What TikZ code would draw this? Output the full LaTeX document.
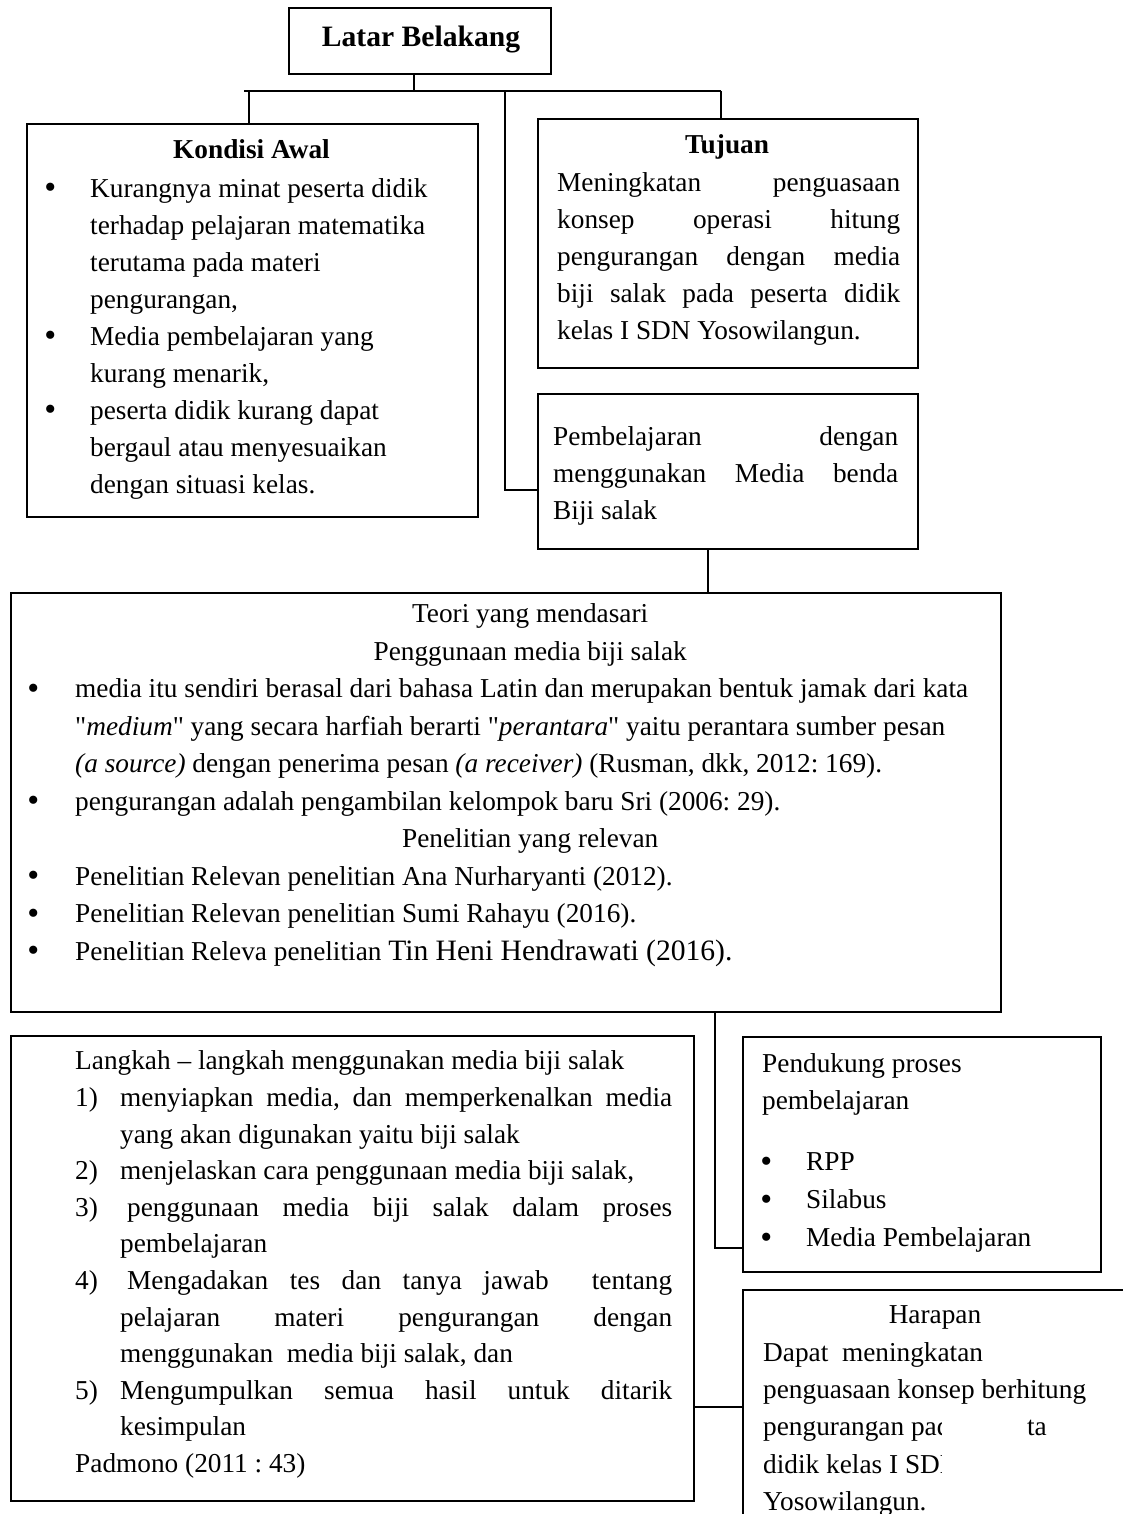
\documentclass[tikz,border=0pt]{standalone}
\usepackage{fontspec}
\setmainfont{Liberation Serif}[Ligatures=TeXOff]
\newcommand\fs{\fontsize{27.3}{37}\selectfont}
\newcommand\jl[2]{\makebox[#1][s]{#2}}
\newcommand\bul[1]{\leavevmode\llap{\raisebox{-1.5pt}{\fontsize{34}{37}\selectfont •}\hspace{#1}}}
\newcommand\nm[1]{\makebox[45pt][l]{#1}}
\tikzset{
  box/.style={draw, line width=1.7pt, inner sep=0pt, anchor=north west},
  txt/.style={inner sep=0pt, anchor=north west, align=justify, font=\fs},
  ttl/.style={inner sep=0pt, anchor=base, font=\fs\bfseries},
  conn/.style={line width=1.7pt},
}
\begin{document}
\frenchspacing
\begin{tikzpicture}[x=1pt,y=-1pt]
\useasboundingbox (0,0) rectangle (1123,1514);
\clip (0,0) rectangle (1123,1514);

% ---------- boxes ----------
\node[box, minimum width=262pt, minimum height=66pt] (lb) at (288,7) {};
\node[box, minimum width=451pt, minimum height=393pt] (ka) at (26,123) {};
\node[box, minimum width=380pt, minimum height=249pt] (tj) at (537,118) {};
\node[box, minimum width=380pt, minimum height=155pt] (pb) at (537,393) {};
\node[box, minimum width=990pt, minimum height=419pt] (te) at (10,592) {};
\node[box, minimum width=683pt, minimum height=465pt] (lk) at (10,1035) {};
\node[box, minimum width=358pt, minimum height=235pt] (pd) at (742,1036) {};

% Harapan box (open on the right and bottom)
\coordinate (hnw) at (743,1290);
\coordinate (hne) at (1130,1290);
\coordinate (hsw) at (743,1520);
\draw[conn] (hne) -- (hnw) -- (hsw);

% ---------- connectors ----------
\coordinate (barL) at (244,91);
\coordinate (barR) at (721,91);
\coordinate (bj) at (414,91);
\coordinate (dl) at (249,91);
\coordinate (dm) at (505,91);
\coordinate (cm) at (505,490);
\coordinate (s1) at (708,570);
\coordinate (s2) at (715,1248);
\coordinate (hl) at (743,1407);

\draw[conn] (bj |- lb.south) -- (bj);
\draw[conn] (barL) -- (barR);
\draw[conn] (dl) -- (dl |- ka.north);
\draw[conn] (dm) -- (cm) -- (cm -| pb.west);
\draw[conn] (barR) -- (barR |- tj.north);
\draw[conn] (s1 |- pb.south) -- (s1 |- te.north);
\draw[conn] (s2 |- te.south) -- (s2) -- (s2 -| pd.west);
\draw[conn] (hl -| lk.east) -- (hl);

% ---------- texts ----------
\node[inner sep=0pt, anchor=base, font=\fontsize{29.6}{36}\selectfont\bfseries] (lbt) at (421,47) {Latar Belakang};

\node[ttl] (kat) at (251.5,159) {Kondisi Awal};
\node[txt, text width=370pt] (kab) at (90,171.1) {\strut\bul{34pt}Kurangnya minat peserta didik\\
terhadap pelajaran matematika\\
terutama pada materi\\
pengurangan,\\
\bul{34pt}Media pembelajaran yang\\
kurang menarik,\\
\bul{34pt}peserta didik kurang dapat\\
bergaul atau menyesuaikan\\
dengan situasi kelas.};

\node[ttl] (tjt) at (727,154) {Tujuan};
\node[txt, text width=343pt] (tjb) at (557,165.1) {\strut\jl{343pt}{Meningkatan penguasaan}\\
\jl{343pt}{konsep operasi hitung}\\
\jl{343pt}{pengurangan dengan media}\\
\jl{343pt}{biji salak pada peserta didik}\\
kelas I SDN Yosowilangun.};

\node[txt, text width=345pt] (pbb) at (553,419.1) {\strut\jl{345pt}{Pembelajaran dengan}\\
\jl{345pt}{menggunakan Media benda}\\
Biji salak};

\node[txt, text width=925pt, font=\fontsize{27.3}{37.5}\selectfont] (teb) at (75,596.1) {\strut\makebox[910pt][c]{Teori yang mendasari}\\
\makebox[910pt][c]{Penggunaan media biji salak}\\
\bul{36pt}media itu sendiri berasal dari bahasa Latin dan merupakan bentuk jamak dari kata\\
"\textit{medium}" yang secara harfiah berarti "\textit{perantara}" yaitu perantara sumber pesan\\
\textit{(a source)} dengan penerima pesan \textit{(a receiver)} (Rusman, dkk, 2012: 169).\\
\bul{36pt}pengurangan adalah pengambilan kelompok baru Sri (2006: 29).\\
\makebox[910pt][c]{Penelitian yang relevan}\\
\bul{36pt}Penelitian Relevan penelitian Ana Nurharyanti (2012).\\
\bul{36pt}Penelitian Relevan penelitian Sumi Rahayu (2016).\\
\bul{36pt}Penelitian Releva penelitian {\fontsize{29.6}{37.5}\selectfont Tin Heni Hendrawati (2016).}};

\node[txt, text width=597pt, font=\fontsize{27.3}{36.6}\selectfont] (lkb) at (75,1044.1) {\strut Langkah – langkah menggunakan media biji salak\\
\nm{1)}\jl{552pt}{menyiapkan media, dan memperkenalkan media}\\
\nm{}yang akan digunakan yaitu biji salak\\
\nm{2)}menjelaskan cara penggunaan media biji salak,\\
\nm{3)}\jl{552pt}{\hspace*{7pt}penggunaan media biji salak dalam proses}\\
\nm{}pembelajaran\\
\nm{4)}\jl{552pt}{\hspace*{7pt}Mengadakan tes dan tanya jawab\ \ tentang}\\
\nm{}\jl{552pt}{pelajaran materi pengurangan dengan}\\
\nm{}menggunakan\ \ media biji salak, dan\\
\nm{5)}\jl{552pt}{Mengumpulkan semua hasil untuk ditarik}\\
\nm{}kesimpulan\\
Padmono (2011 : 43)};

\node[txt, text width=330pt] (pdb) at (762,1046.1) {\strut Pendukung proses\\
pembelajaran};
\node[txt, text width=290pt, font=\fontsize{27.3}{38}\selectfont] (pdl) at (806,1144.1) {\strut\bul{34pt}RPP\\
\bul{34pt}Silabus\\
\bul{34pt}Media Pembelajaran};

\node[inner sep=0pt, anchor=base, font=\fs] (hrt) at (935,1323) {Harapan};
\node[txt, text width=340pt, font=\fontsize{27.3}{37.25}\selectfont] (hrb) at (763,1335.1) {\strut Dapat\ \ meningkatan\\
penguasaan konsep berhitung\\
pengurangan pada peserta\\
didik kelas I SDN\\
Yosowilangun.};
\fill[white] (942,1412) rectangle (1027,1484);
\end{tikzpicture}
\end{document}
